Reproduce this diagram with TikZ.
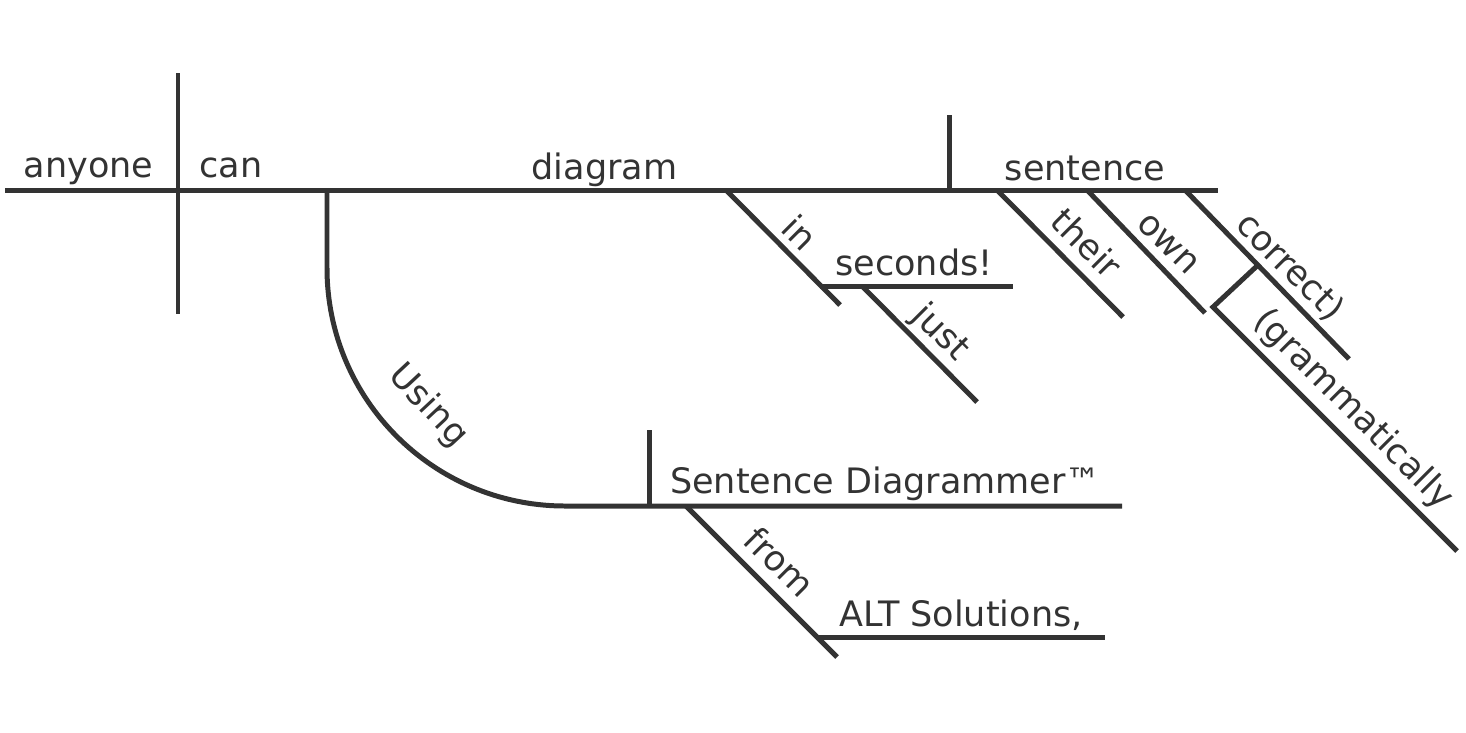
\documentclass[tikz,border=0pt]{standalone}
\usepackage{fontspec}
\setmainfont{DejaVu Sans}
\definecolor{ink}{HTML}{333333}
\begin{document}
\begin{tikzpicture}[x=0.01cm,y=-0.01cm,
  rule/.style={draw=ink, line width=1.42pt, line cap=butt, line join=miter},
  lbl/.style={inner sep=0pt, text=ink, font=\fontsize{9.96pt}{12pt}\selectfont},
  basetext/.style={lbl, anchor=base},
  slanttext/.style={lbl, rotate=-45}]
\useasboundingbox (0,0) rectangle (1466,733);
% coordinates
\coordinate (mL) at (5,190);
\coordinate (mR) at (1218,190);
\coordinate (dvT) at (178,73);
\coordinate (dvB) at (178,314);
\coordinate (voT) at (949,115);
\coordinate (voB) at (949,190);
\coordinate (uA) at (327,190);
\coordinate (uB) at (327,268);
\coordinate (uR) at (1122,506);
\coordinate (svT) at (649,430);
\coordinate (svB) at (649,506);
\coordinate (fA) at (686,506);
\coordinate (fB) at (837,657);
\coordinate (aL) at (817,637);
\coordinate (aR) at (1105,637);
\coordinate (iA) at (726,190);
\coordinate (iB) at (840,305);
\coordinate (sL) at (820,286);
\coordinate (sR) at (1013,286);
\coordinate (jA) at (862,286);
\coordinate (jB) at (977,402);
\coordinate (tA) at (997,190);
\coordinate (tB) at (1123,317);
\coordinate (oA) at (1087,190);
\coordinate (oB) at (1205,313);
\coordinate (cA) at (1185,190);
\coordinate (cB) at (1349,359);
\coordinate (gT) at (1258,265);
\coordinate (gB) at (1213,307);
\coordinate (gE) at (1457,551);
% lines
\draw[rule] (mL) -- (mR);
\draw[rule] (dvT) -- (dvB);
\draw[rule] (voT) -- (voB);
\draw[rule] (uA) -- (uB) arc[start angle=180, end angle=90, radius=238] -- (uR);
\draw[rule] (svT) -- (svB);
\draw[rule] (fA) -- (fB);
\draw[rule] (aL) -- (aR);
\draw[rule] (iA) -- (iB);
\draw[rule] (sL) -- (sR);
\draw[rule] (jA) -- (jB);
\draw[rule] (tA) -- (tB);
\draw[rule] (oA) -- (oB);
\draw[rule] (cA) -- (cB);
\draw[rule] (gT) -- (gB) -- (gE);
% horizontal words
\node[basetext] (anyone) at (88.5,177) {anyone};
\node[basetext] (can) at (231,177) {can};
\node[basetext] (diagram) at (604.5,179) {diagram};
\node[basetext] (sentence) at (1085,180) {sentence};
\node[basetext] (seconds) at (914,275) {seconds!};
\node[basetext] (sd) at (885.5,493) {Sentence Diagrammer™};
\node[basetext] (alt) at (961,626) {ALT Solutions,};
% slanted words
\node[slanttext] (in) at (800,232) {in};
\node[slanttext] (just) at (940,333) {just};
\node[slanttext] (their) at (1087,243) {their};
\node[slanttext] (own) at (1168,244) {own};
\node[slanttext] (correct) at (1290,267) {correct)};
\node[slanttext] (gram) at (1353,410) {(grammatically};
\node[slanttext] (from) at (780,562) {from};
\node[lbl, rotate=-47] (using) at (428,406) {Using};
\end{tikzpicture}
\end{document}
